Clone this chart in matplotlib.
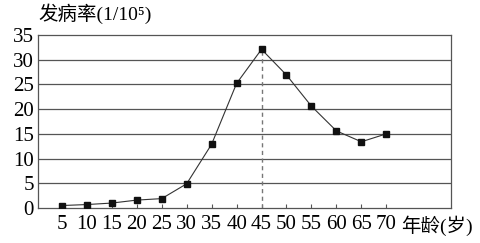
import matplotlib
matplotlib.use('Agg')
import matplotlib.pyplot as plt

ages = [5, 10, 15, 20, 25, 30, 35, 40, 45, 50, 55, 60, 65, 70]
rates = [0.5, 0.7, 1.0, 1.6, 1.9, 4.9, 12.9, 25.2, 32.1, 26.9, 20.6, 15.6, 13.4, 15.0]
yticks = [0, 5, 10, 15, 20, 25, 30, 35]
peak_age = 45

fonts = ['Liberation Serif', 'Noto Sans CJK SC', 'DejaVu Sans']
plt.rcParams['font.family'] = fonts

fig = plt.figure(figsize=(4.8, 2.43), dpi=100)
ax = fig.add_axes([0.079, 0.144, 0.861, 0.712])

# horizontal grid lines
for v in yticks[1:-1]:
    ax.axhline(v, color='#555555', lw=0.9, zorder=1)

ax.plot([peak_age, peak_age], [0, rates[ages.index(peak_age)]], color='#777777',
        lw=1.0, ls=(0, (3, 2.5)), zorder=2)
ax.plot(ages, rates, color='#333333', lw=0.8, marker='s', ms=5,
        mfc='#111111', mec='#111111', zorder=3)

ax.set_xlim(0.2, 83)
ax.set_ylim(0, 35)
ax.set_yticks(yticks)
ax.set_xticks(ages)
ax.tick_params(axis='y', length=0, pad=3, labelsize=15)
ax.tick_params(axis='x', direction='in', length=3, width=0.8, color='#555555',
               pad=5, labelsize=15)
for s in ax.spines.values():
    s.set_color('#555555')
    s.set_linewidth(0.9)

fig.text(0.08, 0.9, '发病率(1/10⁵)', fontsize=14, ha='left', va='bottom')
fig.text(0.835, 0.072, '年龄(岁)', fontsize=14, ha='left', va='center')

fig.savefig('out.png', dpi=100)
